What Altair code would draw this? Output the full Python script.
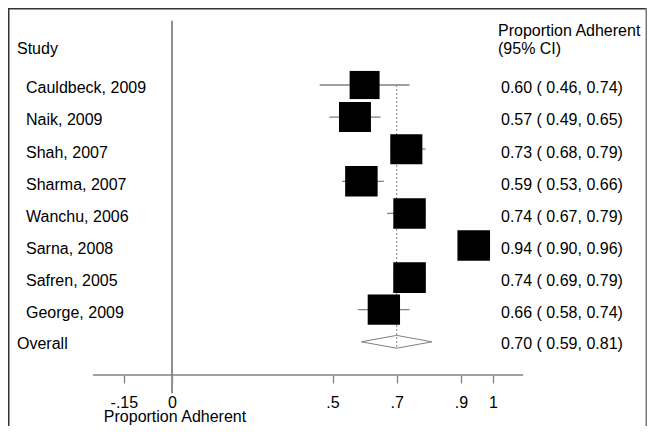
import altair as alt
import pandas as pd

# ---- data ----
studies = ["Cauldbeck, 2009", "Naik, 2009", "Shah, 2007", "Sharma, 2007",
           "Wanchu, 2006", "Sarna, 2008", "Safren, 2005", "George, 2009"]
est = [0.60, 0.57, 0.73, 0.59, 0.74, 0.94, 0.74, 0.66]
lo = [0.46, 0.49, 0.68, 0.53, 0.67, 0.90, 0.69, 0.58]
hi = [0.74, 0.65, 0.79, 0.66, 0.79, 0.96, 0.79, 0.74]
weights = [10.9, 12.4, 12.5, 12.8, 12.8, 12.9, 12.9, 12.7]
overall_label = "Overall"
overall_est, overall_lo, overall_hi = 0.70, 0.59, 0.81
tick_values = [-0.15, 0, 0.5, 0.7, 0.9, 1]
tick_labels = ["-.15", "0", ".5", ".7", ".9", "1"]
axis_title = "Proportion Adherent"
left_header = "Study"
right_header = ["Proportion Adherent", "(95% CI)"]

FONT = "Liberation Sans"
W, H = 639, 418
GRAY = "#808080"
AXIS_Y = 367  # pixel row of the axis line inside the plot

# scales (pixel layout)
x0 = 164.0   # pixel of 0 inside plot
xu = 321.0   # pixels per unit
xscale = alt.Scale(domain=[-x0 / xu, (W - x0) / xu], nice=False, zero=False)
r0 = 44.9    # pixel of row 0
ru = 32.1    # pixels per row
yscale = alt.Scale(domain=[(H - r0) / ru, -r0 / ru], nice=False, zero=False)

label_expr = "".join(
    f"abs(datum.value - ({v})) < 1e-9 ? '{t}' : " for v, t in zip(tick_values, tick_labels)
) + "''"

xaxis = alt.Axis(values=tick_values, labelExpr=label_expr, domain=False, grid=False,
                 ticks=True, tickSize=8, tickColor=GRAY, tickWidth=1.3,
                 labelFont=FONT, labelFontSize=16, labelColor="black", labelPadding=11,
                 labelFlush=False, labelOverlap=False, offset=AXIS_Y - H,
                 title=axis_title, titleFont=FONT, titleFontSize=16,
                 titleFontWeight="normal", titleColor="black", titleX=166.5, titleY=46.5,
                 titleAlign="center", titleBaseline="alphabetic")


def X(field):
    return alt.X(f"{field}:Q", scale=xscale, axis=xaxis)


def Y(field):
    return alt.Y(f"{field}:Q", scale=yscale, axis=None)


n = len(studies)
df = pd.DataFrame({
    "study": studies, "est": est, "lo": lo, "hi": hi, "weight": weights,
    "row": list(range(1, n + 1)),
})
df["label"] = [f"{e:.2f} ( {l:.2f}, {h:.2f})" for e, l, h in zip(est, lo, hi)]
orow = n + 1
odf = pd.DataFrame({"study": [overall_label], "row": [orow], "est": [overall_est],
                    "label": [f"{overall_est:.2f} ( {overall_lo:.2f}, {overall_hi:.2f})"]})

# zero line
zero_df = pd.DataFrame({"x": [0.0], "y": [-1.0], "y2": [10.6]})
zero_line = alt.Chart(zero_df).mark_rule(color="#909090", strokeWidth=2).encode(
    x=X("x"), y=Y("y"), y2="y2")

# axis line
axis_df = pd.DataFrame({"x": [-0.246], "x2": [1.094]})
axis_line = alt.Chart(axis_df).mark_rule(color=GRAY, strokeWidth=1.3).encode(
    x=X("x"), x2="x2", y=alt.value(AXIS_Y))

# dashed overall line
dash_df = pd.DataFrame({"x": [overall_est], "y": [1.0], "y2": [orow + 0.2]})
dash_line = alt.Chart(dash_df).mark_rule(color=GRAY, strokeWidth=1, strokeDash=[2, 2]).encode(
    x=X("x"), y=Y("y"), y2="y2")

ci = alt.Chart(df).mark_rule(color=GRAY, strokeWidth=1.3).encode(
    x=X("lo"), x2="hi", y=Y("row"))

squares = alt.Chart(df).mark_point(
    shape="M-1.066,-1H1.066V1H-1.066Z", filled=True, color="black", opacity=1,
    strokeWidth=0).encode(
    x=X("est"), y=Y("row"),
    size=alt.Size("weight:Q", scale=alt.Scale(domain=[0, 15], range=[0, 1087.5]), legend=None))

dh = 0.2
dia_df = pd.DataFrame({
    "x": [overall_lo, overall_est, overall_hi, overall_est, overall_lo],
    "y": [orow, orow - dh, orow, orow + dh, orow],
    "i": [0, 1, 2, 3, 4],
})
diamond = alt.Chart(dia_df).mark_line(color=GRAY, strokeWidth=1).encode(
    x=X("x"), y=Y("y"), order="i:Q")

txt = dict(font=FONT, fontSize=16, color="black", baseline="alphabetic", align="left")
names = alt.Chart(df).mark_text(dy=8.3, **txt).encode(
    x=alt.value(18), y=Y("row"), text="study:N")
labels = alt.Chart(df).mark_text(dy=8.3, **txt).encode(
    x=alt.value(493), y=Y("row"), text="label:N")
oname = alt.Chart(odf).mark_text(dy=7.5, **txt).encode(
    x=alt.value(9), y=Y("row"), text="study:N")
olabel = alt.Chart(odf).mark_text(dy=7.5, **txt).encode(
    x=alt.value(493), y=Y("row"), text="label:N")

hdr_df = pd.DataFrame({"t": [left_header]})
lhdr = alt.Chart(hdr_df).mark_text(**txt).encode(
    x=alt.value(9), y=alt.value(46.3), text="t:N")
rhdr1 = alt.Chart(pd.DataFrame({"t": [right_header[0]]})).mark_text(**txt).encode(
    x=alt.value(490), y=alt.value(27.5), text="t:N")
rhdr2 = alt.Chart(pd.DataFrame({"t": [right_header[1]]})).mark_text(**txt).encode(
    x=alt.value(490), y=alt.value(46.3), text="t:N")

one = pd.DataFrame({"a": [0]})
frame_top = alt.Chart(one).mark_rule(color="#333333", strokeWidth=1.5).encode(
    x=alt.value(0), x2=alt.value(W), y=alt.value(0.75))
frame_left = alt.Chart(one).mark_rule(color="#333333", strokeWidth=1.5).encode(
    x=alt.value(0.75), y=alt.value(0), y2=alt.value(H))
frame_right = alt.Chart(one).mark_rule(color="#777777", strokeWidth=1.5).encode(
    x=alt.value(W - 0.75), y=alt.value(0), y2=alt.value(H))

chart = alt.layer(
    zero_line, axis_line, dash_line, ci, squares, diamond,
    names, labels, oname, olabel, lhdr, rhdr1, rhdr2,
    frame_top, frame_left, frame_right,
).properties(
    width=W, height=H, padding=0, autosize=alt.AutoSizeParams(type="none"),
    background="white",
).configure_view(stroke=None)

chart.save("out.html", embed_options={"renderer": "svg", "actions": False})
